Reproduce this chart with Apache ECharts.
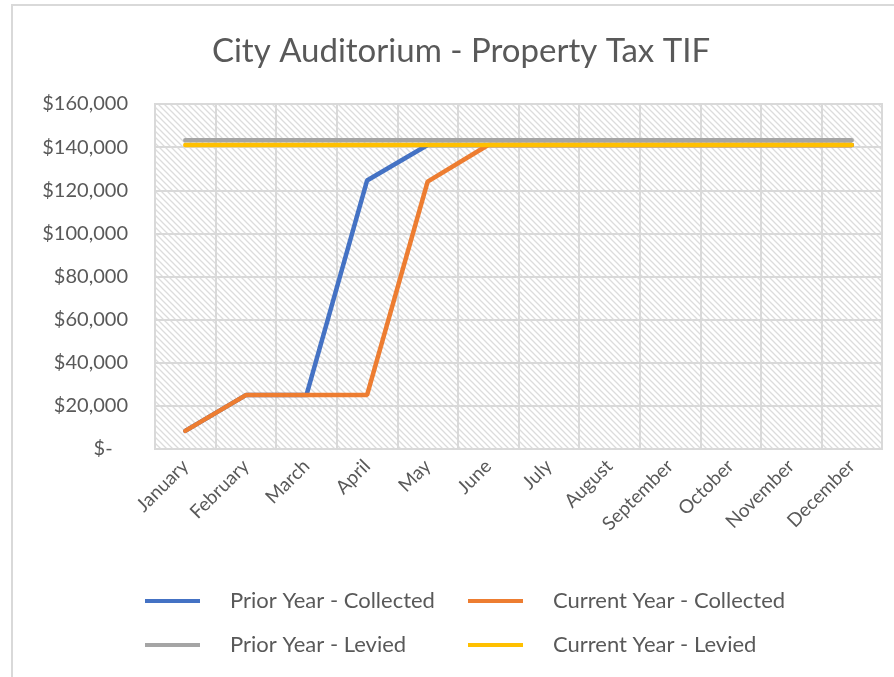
<!DOCTYPE html>
<html lang="en">
<head>
<meta charset="UTF-8">
<title>City Auditorium - Property Tax TIF</title>
<script src="https://cdn.jsdelivr.net/npm/echarts@6/dist/echarts.min.js"></script>
<style>
    html, body { margin: 0; padding: 0; background: #fff; }
    #container { width: 894px; height: 677px; }
</style>
</head>
<body>
<div id="container"></div>
<script type="text/javascript">
    // data
    const months = ['January', 'February', 'March', 'April', 'May', 'June',
        'July', 'August', 'September', 'October', 'November', 'December'];
    const priorCollected = [8400, 25000, 25000, 124500, 141000, 141000, 141000, 141000, 141000, 141000, 141000, 141000];
    const currentCollected = [8400, 25000, 25000, 25000, 124000, 141000, 141000, 141000, 141000, 141000, 141000, 141000];
    const priorLevied = [143200, 143200, 143200, 143200, 143200, 143200, 143200, 143200, 143200, 143200, 143200, 143200];
    const currentLevied = [141000, 141000, 141000, 141000, 141000, 141000, 141000, 141000, 141000, 141000, 141000, 141000];

    const font = 'Lato, "Open Sans", sans-serif';
    const textColor = '#595959';

    // hatch fill for the plot area
    function hatch() {
        const c = document.createElement('canvas');
        c.width = 6; c.height = 6;
        const ctx = c.getContext('2d');
        ctx.fillStyle = '#fff';
        ctx.fillRect(0, 0, 6, 6);
        ctx.strokeStyle = '#dcdcdc';
        ctx.lineWidth = 1.3;
        ctx.beginPath();
        ctx.moveTo(-1, -1); ctx.lineTo(7, 7);
        ctx.moveTo(-4, 2); ctx.lineTo(4, 10);
        ctx.moveTo(2, -4); ctx.lineTo(10, 4);
        ctx.stroke();
        return c;
    }

    const dom = document.getElementById('container');
    const myChart = echarts.init(dom, null, { renderer: 'canvas' });

    // accounting style: zero shows as "$-"
    function money(v) {
        if (v === 0) return '$-   ';
        return '$' + v.toLocaleString('en-US');
    }

    const lineSeries = (name, data, color) => ({
        name: name,
        type: 'line',
        data: data,
        symbol: 'none',
        lineStyle: { width: 4.5, color: color, cap: 'round' },
        itemStyle: { color: color }
    });

    const legendText = { fontFamily: font, fontSize: 22, color: textColor, padding: [0, 0, 0, 25] };

    const option = {
        animation: false,
        backgroundColor: '#fff',
        graphic: [{
            type: 'rect',
            shape: { x: 12, y: 5, width: 920, height: 720 },
            style: { fill: 'none', stroke: '#d9d9d9', lineWidth: 2 },
            silent: true
        }],
        title: {
            text: 'City Auditorium - Property Tax TIF',
            left: 456,
            textAlign: 'center',
            top: 30,
            textStyle: { fontFamily: font, fontSize: 33, fontWeight: 'normal', color: textColor }
        },
        grid: {
            left: 155, right: 12, top: 104, bottom: 228,
            show: true,
            backgroundColor: { image: hatch(), repeat: 'repeat' },
            borderColor: '#d9d9d9', borderWidth: 2
        },
        legend: [{
            left: 140, top: 585, orient: 'vertical', itemGap: 22,
            itemWidth: 55, itemHeight: 4, icon: 'rect',
            data: ['Prior Year - Collected', 'Prior Year - Levied'],
            textStyle: legendText
        }, {
            left: 463, top: 585, orient: 'vertical', itemGap: 22,
            itemWidth: 55, itemHeight: 4, icon: 'rect',
            data: ['Current Year - Collected', 'Current Year - Levied'],
            textStyle: legendText
        }],
        xAxis: {
            type: 'category',
            data: months,
            boundaryGap: true,
            axisLine: { show: false },
            axisTick: { show: false },
            splitLine: { show: true, lineStyle: { color: '#d9d9d9', width: 2 } },
            axisLabel: {
                rotate: 45, margin: 14, interval: 0,
                fontFamily: font, fontSize: 19, color: textColor
            }
        },
        yAxis: {
            type: 'value',
            min: 0, max: 160000, interval: 20000,
            axisLine: { show: false },
            axisTick: { show: false },
            splitLine: { lineStyle: { color: '#d9d9d9', width: 2 } },
            axisLabel: {
                margin: 27, formatter: money,
                fontFamily: font, fontSize: 20, color: textColor
            }
        },
        series: [
            lineSeries('Prior Year - Collected', priorCollected, '#4472C4'),
            lineSeries('Current Year - Collected', currentCollected, '#ED7D31'),
            lineSeries('Prior Year - Levied', priorLevied, '#A5A5A5'),
            lineSeries('Current Year - Levied', currentLevied, '#FFC000')
        ]
    };

    myChart.setOption(option);
    window.addEventListener('resize', myChart.resize);
</script>
</body>
</html>
